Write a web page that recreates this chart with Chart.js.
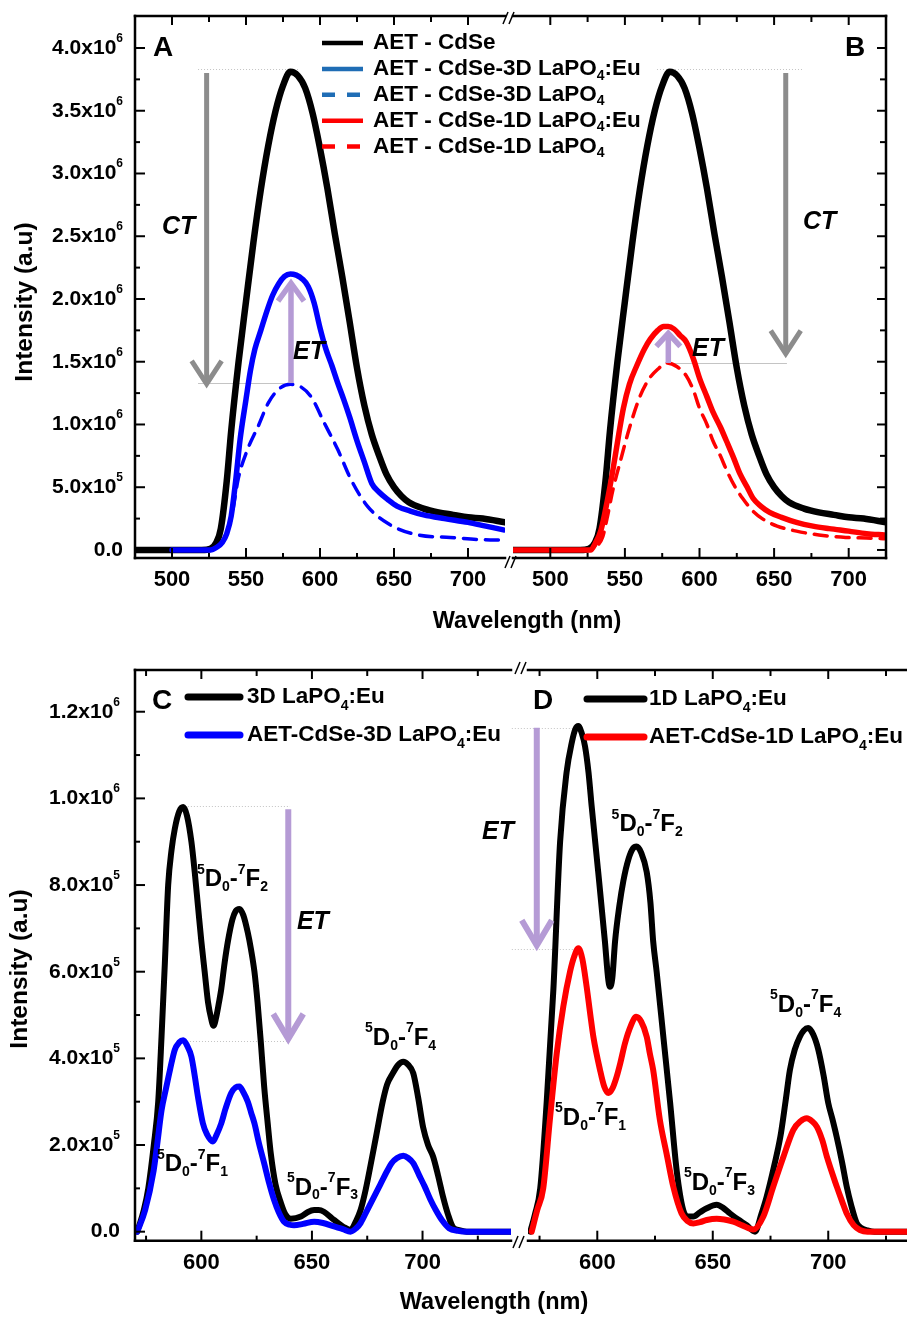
<!DOCTYPE html>
<html lang="en">
<head>
<meta charset="UTF-8">
<title>AET-CdSe / LaPO4:Eu emission spectra</title>
<script src="https://cdn.jsdelivr.net/npm/chart.js"></script>
<style>
    body { margin: 0; background: #fff; }
    .figure { position: relative; width: 907px; height: 1319px; }
    .figure canvas { position: absolute; left: 0; top: 0; }
</style>
</head>
<body>
<div class="figure">
    <canvas id="panelA" width="907" height="1319"></canvas>
    <canvas id="panelB" width="907" height="1319"></canvas>
    <canvas id="panelC" width="907" height="1319"></canvas>
    <canvas id="panelD" width="907" height="1319"></canvas>
</div>

<script>
// wavelength in nm, intensity in units of 10^6 a.u.

// A / B: CdSe band-edge emission
const wlCdSe = [475, 500, 520, 526, 530, 533, 537, 540, 545, 550,
                555, 560, 565, 570, 575, 580, 585, 590, 595, 600,
                605, 610, 615, 620, 625, 630, 635, 640, 645, 650,
                655, 660, 670, 680, 690, 700, 710, 725];
const intCdSe = [0, 0, 0, 0.01, 0.06, 0.17, 0.55, 0.95, 1.5, 1.98,
                 2.45, 2.87, 3.22, 3.5, 3.7, 3.81, 3.78, 3.68, 3.48, 3.2,
                 2.88, 2.52, 2.18, 1.82, 1.45, 1.15, 0.92, 0.75, 0.6, 0.5,
                 0.43, 0.38, 0.33, 0.3, 0.28, 0.26, 0.25, 0.22];

const wl3DEu = [500, 520, 526, 530, 534, 537, 540, 543, 546, 550,
                553, 556, 560, 564, 568, 572, 576, 580, 584, 588,
                592, 596, 600, 604, 608, 612, 616, 620, 625, 630,
                635, 640, 646, 652, 661, 670, 684, 700, 712, 724];
const int3DEu = [0, 0, 0, 0.02, 0.06, 0.13, 0.27, 0.55, 0.88, 1.2,
                 1.43, 1.6, 1.75, 1.9, 2.03, 2.12, 2.18, 2.2, 2.19, 2.16,
                 2.1, 1.97, 1.77, 1.6, 1.47, 1.33, 1.2, 1.06, 0.87, 0.7,
                 0.53, 0.46, 0.4, 0.35, 0.31, 0.28, 0.25, 0.22, 0.19, 0.16];

const wl3D = [500, 525, 530, 535, 540, 545, 551, 558, 565, 572,
              580, 587, 594, 603, 612, 621, 632, 646, 666, 688,
              715, 724];
const int3D = [0, 0, 0.02, 0.08, 0.25, 0.58, 0.8, 0.98, 1.17, 1.28,
               1.32, 1.3, 1.22, 1.01, 0.8, 0.56, 0.35, 0.21, 0.12, 0.1,
               0.08, 0.08];

const wl1DEu = [475, 500, 520, 527, 530, 534, 538, 542, 546, 549,
                553, 558, 563, 567, 572, 576, 579, 583, 587, 591,
                596, 600, 605, 609, 614, 618, 623, 627, 632, 636,
                641, 647, 655, 665, 676, 687, 700, 712, 724];
const int1DEu = [0, 0, 0, 0, 0.05, 0.16, 0.38, 0.64, 0.93, 1.13,
                 1.32, 1.47, 1.6, 1.68, 1.75, 1.78, 1.78, 1.76, 1.71, 1.66,
                 1.52, 1.37, 1.22, 1.1, 0.98, 0.87, 0.73, 0.61, 0.5, 0.41,
                 0.35, 0.3, 0.26, 0.22, 0.19, 0.17, 0.15, 0.13, 0.12];

const wl1D = [475, 500, 527, 531, 535, 538, 542, 547, 553, 560, 566, 572,
              578, 585, 591, 596, 600, 605, 609, 614, 618, 623,
              629, 635, 642, 652, 665, 680, 698, 712, 724];
const int1D = [0, 0, 0, 0.03, 0.1, 0.25, 0.48, 0.71, 0.97, 1.22, 1.36, 1.44,
               1.49, 1.46, 1.39, 1.27, 1.13, 1.0, 0.87, 0.75, 0.64, 0.52,
               0.41, 0.32, 0.25, 0.19, 0.15, 0.12, 0.1, 0.095, 0.09];

// C / D: Eu3+ 5D0 -> 7FJ emission
const wlEu3D = [571, 574, 576, 578.5, 580.5, 582, 583.5, 585, 586.5, 588,
                590, 591.8, 593.5, 595.5, 597, 598.5, 600, 601.5, 603, 604.5,
                605.5, 606.5, 608, 609, 610.5, 612, 614, 615.5, 617.2, 619,
                621, 622.5, 624, 625.4, 627, 628.4, 630, 631.4, 633.5, 636,
                638, 640.4, 645, 648, 651, 653, 655.4, 660, 664, 667.4,
                670, 672, 674, 676, 679, 682, 684, 686.5, 689, 691.3,
                693.5, 695.8, 698, 700.3, 702.5, 704.8, 707, 709.3, 711.5, 713.8,
                717, 720, 730, 740];
const intEu3D = [0, 0.05, 0.1, 0.2, 0.3, 0.45, 0.62, 0.8, 0.88, 0.93,
                 0.97, 0.98, 0.96, 0.9, 0.83, 0.75, 0.67, 0.6, 0.53, 0.49,
                 0.475, 0.49, 0.53, 0.56, 0.62, 0.67, 0.72, 0.74, 0.745, 0.73,
                 0.69, 0.65, 0.6, 0.53, 0.43, 0.335, 0.25, 0.18, 0.11, 0.066,
                 0.04, 0.03, 0.035, 0.045, 0.05, 0.05, 0.046, 0.027, 0.012, 0.004,
                 0.025, 0.05, 0.09, 0.14, 0.22, 0.3, 0.34, 0.365, 0.385, 0.392,
                 0.385, 0.366, 0.31, 0.24, 0.2, 0.173, 0.13, 0.08, 0.04, 0.01,
                 0.003, 0, 0, 0];

const wlEu3DAET = [571, 574.6, 578.4, 580, 582, 584, 585.8, 588, 590, 591.8,
                   593.5, 595.5, 597, 598.5, 600.7, 602.5, 605.2, 607, 609, 611,
                   613.5, 615.5, 617.2, 619, 621, 622.5, 624, 626, 628.4, 630.5,
                   632.9, 635, 637.4, 640, 641.9, 646, 651, 655, 660, 664,
                   667.4, 670, 672, 675, 678, 681, 684, 686, 688.5, 691.3,
                   693.5, 695.8, 698.5, 701, 703.5, 706, 709, 712, 716, 720,
                   730, 740];
const intEu3DAET = [0, 0.05, 0.14, 0.2, 0.28, 0.33, 0.373, 0.42, 0.437, 0.442,
                    0.43, 0.404, 0.36, 0.31, 0.25, 0.225, 0.208, 0.225, 0.25, 0.285,
                    0.32, 0.333, 0.335, 0.322, 0.3, 0.275, 0.25, 0.205, 0.158, 0.115,
                    0.073, 0.045, 0.023, 0.016, 0.015, 0.018, 0.023, 0.02, 0.012, 0.006,
                    0, 0.008, 0.02, 0.05, 0.08, 0.11, 0.14, 0.158, 0.17, 0.175,
                    0.17, 0.158, 0.13, 0.104, 0.075, 0.05, 0.025, 0.008, 0.002, 0,
                    0, 0];

const wlEu1D = [571, 573, 575.3, 578.1, 581, 583.9, 586.7, 589, 590.5, 591.8,
                593.3, 594.7, 596.2, 597.6, 600.4, 603.3, 604.8, 605.5, 606.5, 607.7,
                609.5, 611.3, 613.5, 615.5, 617, 619, 621.4, 623, 624.2, 625.7,
                628.6, 631.5, 634.4, 637.2, 639.5, 641.6, 644.5, 647.4, 651.7, 654.5,
                657.5, 661, 664.7, 668.3, 671, 673.3, 676.5, 679.3, 681.5, 683.4,
                685.5, 687.7, 689.5, 691.3, 693.5, 695.7, 698, 700, 701.8, 703.6,
                706, 708, 710, 712.3, 714.5, 717, 720, 734];
const intEu1D = [0, 0.04, 0.1, 0.3, 0.56, 0.9, 1.06, 1.13, 1.16, 1.167,
                 1.15, 1.12, 1.06, 0.98, 0.83, 0.67, 0.58, 0.565, 0.585, 0.67,
                 0.75, 0.81, 0.86, 0.885, 0.889, 0.875, 0.83, 0.76, 0.67, 0.6,
                 0.45, 0.3, 0.14, 0.05, 0.035, 0.035, 0.045, 0.054, 0.062, 0.055,
                 0.042, 0.028, 0.015, 0, 0.04, 0.08, 0.15, 0.22, 0.3, 0.373,
                 0.42, 0.45, 0.465, 0.47, 0.455, 0.42, 0.36, 0.297, 0.26, 0.22,
                 0.16, 0.104, 0.06, 0.02, 0.008, 0.003, 0, 0];

const wlEu1DAET = [571.6, 574, 576.6, 579.5, 582.4, 585.3, 588.2, 590, 591.8, 593.5,
                   595.4, 597, 598.3, 601.2, 603, 604.8, 606.5, 608.4, 610, 612,
                   614.5, 616.8, 619, 621.4, 622.8, 624.2, 627.1, 630, 632.9, 636.5,
                   639, 641.6, 644.5, 647.4, 651.7, 655, 658.9, 663, 667.6, 671.9,
                   676.2, 680.6, 684.9, 688, 690.7, 693, 695.1, 697.5, 699.4, 703.7,
                   706, 708, 711, 713.7, 717, 734];
const intEu1DAET = [0, 0.05, 0.1, 0.26, 0.41, 0.52, 0.6, 0.635, 0.654, 0.63,
                    0.565, 0.5, 0.45, 0.373, 0.335, 0.32, 0.33, 0.358, 0.39, 0.435,
                    0.475, 0.496, 0.485, 0.45, 0.41, 0.373, 0.258, 0.18, 0.104, 0.042,
                    0.025, 0.019, 0.022, 0.027, 0.03, 0.028, 0.023, 0.014, 0.005, 0.035,
                    0.104, 0.173, 0.235, 0.255, 0.262, 0.255, 0.242, 0.21, 0.173, 0.104,
                    0.07, 0.042, 0.015, 0.004, 0, 0];

const W = 907, H = 1319;
const FONT = '"Liberation Sans", Arial, sans-serif';
const GRAY = '#8c8c8c', LILAC = '#b59bd5', GUIDE = '#c4c4c4';
const BLUE = '#0000ff', RED = '#ff0000', KEY_BLUE = '#1f6db5';

const pts = (xs, ys) => xs.map((x, i) => ({ x, y: ys[i] }));

// text made of runs: ['text', ''] normal, ['5', 'sup'], ['0', 'sub']
function drawRich(ctx, parts, x, y, size, opt = {}) {
    const small = Math.round(size * (opt.smallRatio || 0.62));
    const font = k => `${opt.italic ? 'italic ' : ''}bold ${k ? small : size}px ${FONT}`;
    let w = 0;
    for (const [t, k] of parts) { ctx.font = font(k); w += ctx.measureText(t).width; }
    let cx = opt.align === 'right' ? x - w : opt.align === 'center' ? x - w / 2 : x;
    ctx.fillStyle = opt.color || '#000';
    ctx.textAlign = 'left';
    ctx.textBaseline = 'middle';
    for (const [t, k] of parts) {
        ctx.font = font(k);
        const dy = k === 'sup' ? -size * (opt.supRise || 0.4) : k === 'sub' ? size * (opt.subDrop || 0.32) : 0;
        ctx.fillText(t, cx, y + dy);
        cx += ctx.measureText(t).width;
    }
}

function sciLabel(v) {
    if (Math.abs(v) < 1e-9) return [['0.0', '']];
    const raw = v * 1e6;
    const e = Math.floor(Math.log10(raw) + 1e-9);
    return [[(raw / Math.pow(10, e)).toFixed(1) + 'x10', ''], [String(e), 'sup']];
}

function steps(lo, hi, minor, every, fn) {
    for (let k = Math.ceil(lo / minor - 1e-9); k * minor <= hi + 1e-9; k++) {
        fn(k * minor, k % every === 0);
    }
}

const transition = j => [['5', 'sup'], ['D', ''], ['0', 'sub'], ['-', ''], ['7', 'sup'], ['F', ''], [String(j), 'sub']];
const laPO = (pre, post) => [[pre + 'LaPO', ''], ['4', 'sub'], ...(post ? [[post, '']] : [])];

// frame, inward ticks, tick labels, arrows, notes and keys for each panel
const decor = {
    id: 'decor',
    beforeDatasetsDraw(chart, args, o) {
        const { ctx, scales: { x, y } } = chart;
        ctx.save();
        ctx.lineWidth = 1;
        ctx.strokeStyle = GUIDE;
        for (const g of o.guides || []) {
            ctx.setLineDash(g.dash || []);
            const py = Math.round(y.getPixelForValue(g.y)) + 0.5;
            ctx.beginPath();
            ctx.moveTo(x.getPixelForValue(g.x1), py);
            ctx.lineTo(x.getPixelForValue(g.x2), py);
            ctx.stroke();
        }
        ctx.restore();
    },
    afterDatasetsDraw(chart, args, o) {
        const { ctx, chartArea: a, scales: { x, y } } = chart;
        const seg = (x1, y1, x2, y2) => { ctx.beginPath(); ctx.moveTo(x1, y1); ctx.lineTo(x2, y2); ctx.stroke(); };
        ctx.save();
        ctx.setLineDash([]);

        for (const ar of o.arrows || []) {
            const px = x.getPixelForValue(ar.x);
            const y0 = y.getPixelForValue(ar.from), y1 = y.getPixelForValue(ar.to);
            const dir = Math.sign(y1 - y0);
            ctx.strokeStyle = ar.color;
            ctx.lineWidth = ar.width;
            ctx.lineCap = 'butt';
            ctx.lineJoin = 'miter';
            seg(px, y0, px, y1 - dir * 3);
            ctx.beginPath();
            ctx.moveTo(px - ar.head[0], y1 - dir * ar.head[1]);
            ctx.lineTo(px, y1 - dir * 3);
            ctx.lineTo(px + ar.head[0], y1 - dir * ar.head[1]);
            ctx.stroke();
        }

        const f = o.frame;
        ctx.strokeStyle = '#000';
        ctx.lineWidth = 2.5;
        ctx.lineCap = 'square';
        if (f.top) seg(a.left, a.top, a.right, a.top);
        if (f.bottom) seg(a.left, a.bottom, a.right, a.bottom);
        if (f.left) seg(a.left, a.top, a.left, a.bottom);
        if (f.right) seg(a.right, a.top, a.right, a.bottom);

        ctx.lineWidth = 2;
        ctx.lineCap = 'butt';
        steps(x.min, x.max, o.xStep, 2, (v, major) => {
            const px = x.getPixelForValue(v);
            if (px < a.left + 2 || px > a.right - 2) return;
            if (f.bottom) seg(px, a.bottom, px, a.bottom - (major ? 10 : 5));
            if (f.top) seg(px, a.top, px, a.top + (major ? 9 : 6));
            if (major && o.xLabels) drawRich(ctx, [[String(v), '']], px, a.bottom + o.xLabelDy, 22, { align: 'center' });
        });
        steps(y.min, y.max, o.yStep, 2, (v, major) => {
            const py = y.getPixelForValue(v);
            if (py < a.top + 2 || py > a.bottom - 2) return;
            if (f.left) seg(a.left, py, a.left + (major ? 10 : 5), py);
            if (f.right) seg(a.right, py, a.right - (major ? 9 : 6), py);
            if (major && o.yLabels) drawRich(ctx, sciLabel(v), a.left - o.yLabelGap, py, 21, { align: 'right', smallRatio: 0.55, supRise: 0.45 });
        });

        ctx.lineWidth = 1.5;
        for (const [bx, by] of o.breaks || []) {
            seg(bx - 6, by + 6, bx - 1, by - 6);
            seg(bx, by + 6, bx + 5, by - 6);
        }

        for (const t of o.texts || []) {
            drawRich(ctx, t.parts, x.getPixelForValue(t.x), y.getPixelForValue(t.y), t.size || 24,
                     { italic: t.italic, smallRatio: 0.6 });
        }

        const k = o.key;
        if (k) {
            k.items.forEach((it, i) => {
                const ly = k.y + i * k.dy;
                ctx.strokeStyle = it.color;
                ctx.lineWidth = k.width;
                ctx.lineCap = k.cap || 'butt';
                ctx.setLineDash(it.dash || []);
                seg(k.x, ly, k.x + k.len, ly);
                ctx.setLineDash([]);
                drawRich(ctx, it.parts, k.x + k.len + k.gap, ly, k.size, { smallRatio: 0.6, subDrop: k.subDrop || 0.3 });
            });
        }

        for (const t of o.titles || []) {
            ctx.save();
            ctx.translate(t.x, t.y);
            ctx.rotate(t.rot || 0);
            drawRich(ctx, [[t.text, '']], 0, 0, t.size || 23.5, { align: 'center' });
            ctx.restore();
        }
        ctx.restore();
    }
};

function line(data, color, width, dash) {
    return { data, borderColor: color, borderWidth: width, borderDash: dash || [], fill: false };
}

function panel(id, area, xRange, yRange, datasets, opts) {
    const fixed = s => { if (s.isHorizontal()) s.height = 0; else s.width = 0; };
    return new Chart(document.getElementById(id), {
        type: 'line',
        data: { datasets },
        options: {
            responsive: false,
            animation: false,
            devicePixelRatio: 1,
            layout: { padding: { left: area.l, top: area.t, right: W - area.r, bottom: H - area.b } },
            elements: {
                point: { radius: 0 },
                line: { cubicInterpolationMode: 'monotone', borderCapStyle: 'round', borderJoinStyle: 'round' }
            },
            scales: {
                x: { type: 'linear', min: xRange[0], max: xRange[1], ticks: { display: false },
                     grid: { display: false }, border: { display: false }, afterFit: fixed },
                y: { type: 'linear', min: yRange[0], max: yRange[1], ticks: { display: false },
                     grid: { display: false }, border: { display: false }, afterFit: fixed }
            },
            plugins: { legend: { display: false }, tooltip: { enabled: false }, decor: opts }
        },
        plugins: [decor]
    });
}

const DASH = [13, 9];

// A: CdSe with 3D LaPO4
panel('panelA', { l: 135, r: 505, t: 16, b: 558 }, [475, 725], [-0.064, 4.255], [
    line(pts(wl3DEu, int3DEu), BLUE, 5.5),
    line(pts(wl3D, int3D), BLUE, 3.5, DASH),
    line(pts(wlCdSe, intCdSe), '#000', 6.5)
], {
    frame: { left: true, top: true, bottom: true },
    xStep: 25, yStep: 0.25, xLabels: true, xLabelDy: 21.5, yLabels: true, yLabelGap: 12,
    breaks: [[509, 18], [511, 562]],
    guides: [
        { x1: 517.6, x2: 586.5, y: 3.83, dash: [1, 2] },
        { x1: 517.6, x2: 581.8, y: 1.33 }
    ],
    arrows: [
        { x: 523.4, from: 3.80, to: 1.30, color: GRAY, width: 5, head: [15, 26] },
        { x: 580.4, from: 1.33, to: 2.15, color: LILAC, width: 5.5, head: [13, 21] }
    ],
    texts: [
        { x: 487.2, y: 4.0, parts: [['A', '']], size: 28 },
        { x: 493.2, y: 2.574, parts: [['CT', '']], size: 25, italic: true },
        { x: 581.8, y: 1.578, parts: [['ET', '']], size: 25, italic: true }
    ],
    key: {
        x: 322, y: 43, dy: 25.9, len: 41, gap: 10, size: 22.5, width: 4.5,
        items: [
            { color: '#000', parts: [['AET - CdSe', '']] },
            { color: KEY_BLUE, parts: laPO('AET - CdSe-3D ', ':Eu') },
            { color: KEY_BLUE, dash: [13, 12], parts: laPO('AET - CdSe-3D ') },
            { color: RED, parts: laPO('AET - CdSe-1D ', ':Eu') },
            { color: RED, dash: [13, 12], parts: laPO('AET - CdSe-1D ') }
        ]
    },
    titles: [
        { x: 25, y: 302, rot: -Math.PI / 2, text: 'Intensity (a.u)', size: 24.5 },
        { x: 527, y: 622, text: 'Wavelength (nm)' }
    ]
});

// B: CdSe with 1D LaPO4
panel('panelB', { l: 513, r: 886, t: 16, b: 558 }, [475, 725], [-0.064, 4.255], [
    line(pts(wl1DEu, int1DEu), RED, 5.5),
    line(pts(wl1D, int1D), RED, 3.5, DASH),
    line(pts(wlCdSe, intCdSe), '#000', 6.5)
], {
    frame: { top: true, bottom: true, right: true },
    xStep: 25, yStep: 0.25, xLabels: true, xLabelDy: 21.5,
    guides: [
        { x1: 571.5, x2: 669.4, y: 3.83, dash: [1, 2] },
        { x1: 578.2, x2: 658.6, y: 1.49 }
    ],
    arrows: [
        { x: 657.8, from: 3.80, to: 1.54, color: GRAY, width: 5, head: [15, 26] },
        { x: 579.1, from: 1.49, to: 1.75, color: LILAC, width: 5.5, head: [12, 16] }
    ],
    texts: [
        { x: 697.5, y: 4.0, parts: [['B', '']], size: 28 },
        { x: 669.4, y: 2.609, parts: [['CT', '']], size: 25, italic: true },
        { x: 595, y: 1.601, parts: [['ET', '']], size: 25, italic: true }
    ]
});

// C: 3D LaPO4:Eu with and without AET-CdSe
panel('panelC', { l: 135, r: 511, t: 670, b: 1240.7 }, [570, 740], [-0.0208, 1.2963], [
    line(pts(wlEu3DAET, intEu3DAET), BLUE, 6),
    line(pts(wlEu3D, intEu3D), '#000', 6)
], {
    frame: { left: true, top: true, bottom: true },
    xStep: 25, yStep: 0.1, xLabels: true, xLabelDy: 22.6, yLabels: true, yLabelGap: 15,
    breaks: [[521, 668], [519, 1242]],
    guides: [
        { x1: 591.2, x2: 640.1, y: 0.982, dash: [1, 2] },
        { x1: 593.5, x2: 640.1, y: 0.441, dash: [1, 2] }
    ],
    arrows: [
        { x: 639.3, from: 0.975, to: 0.438, color: LILAC, width: 6, head: [15, 28] }
    ],
    texts: [
        { x: 577.7, y: 1.223, parts: [['C', '']], size: 28 },
        { x: 598.0, y: 0.812, parts: transition(2) },
        { x: 579.9, y: 0.155, parts: transition(1) },
        { x: 638.7, y: 0.101, parts: transition(3) },
        { x: 674.0, y: 0.447, parts: transition(4) },
        { x: 643.2, y: 0.715, parts: [['ET', '']], size: 25, italic: true }
    ],
    key: {
        x: 188, y: 697, dy: 38, len: 52, gap: 7, size: 22.5, width: 7, cap: 'round', subDrop: 0.42,
        items: [
            { color: '#000', parts: laPO('3D ', ':Eu') },
            { color: BLUE, parts: laPO('AET-CdSe-3D ', ':Eu') }
        ]
    },
    titles: [
        { x: 20, y: 969, rot: -Math.PI / 2, text: 'Intensity (a.u)', size: 24.5 },
        { x: 494, y: 1303, text: 'Wavelength (nm)' }
    ]
});

// D: 1D LaPO4:Eu with and without AET-CdSe
panel('panelD', { l: 528, r: 907, t: 670, b: 1240.7 }, [570, 734.1], [-0.0208, 1.2963], [
    line(pts(wlEu1DAET, intEu1DAET), RED, 6),
    line(pts(wlEu1D, intEu1D), '#000', 6)
], {
    frame: { top: true, bottom: true },
    xStep: 25, yStep: 0.1, xLabels: true, xLabelDy: 22.6,
    guides: [
        { x1: 563, x2: 591.8, y: 1.163, dash: [1, 2] },
        { x1: 563, x2: 591.8, y: 0.652, dash: [1, 2] }
    ],
    arrows: [
        { x: 573.8, from: 1.163, to: 0.654, color: LILAC, width: 6, head: [15, 28] }
    ],
    texts: [
        { x: 572.2, y: 1.223, parts: [['D', '']], size: 28 },
        { x: 606.2, y: 0.939, parts: transition(2) },
        { x: 581.7, y: 0.262, parts: transition(1) },
        { x: 637.5, y: 0.112, parts: transition(3) },
        { x: 674.8, y: 0.523, parts: transition(4) },
        { x: 550.1, y: 0.923, parts: [['ET', '']], size: 25, italic: true }
    ],
    key: {
        x: 587, y: 699, dy: 38, len: 57, gap: 5, size: 22.5, width: 7, cap: 'round', subDrop: 0.42,
        items: [
            { color: '#000', parts: laPO('1D ', ':Eu') },
            { color: RED, parts: laPO('AET-CdSe-1D ', ':Eu') }
        ]
    }
});
</script>
</body>
</html>
